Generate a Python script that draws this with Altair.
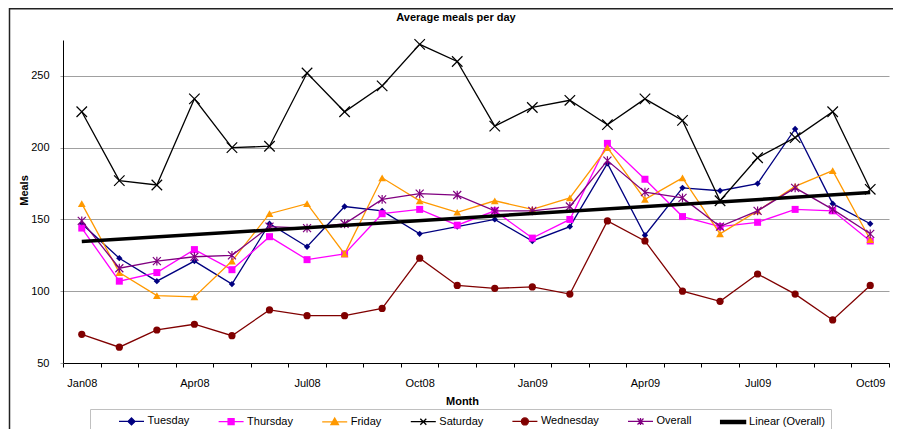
import json
import altair as alt
import pandas as pd

months = ["Jan08", "Feb08", "Mar08", "Apr08", "May08", "Jun08", "Jul08", "Aug08",
          "Sep08", "Oct08", "Nov08", "Dec08", "Jan09", "Feb09", "Mar09", "Apr09",
          "May09", "Jun09", "Jul09", "Aug09", "Sep09", "Oct09"]
tuesday = [147, 123, 107, 121, 105, 147, 131, 159, 156, 140, 145, 150, 135, 145, 189, 139, 172, 170, 175, 213, 161, 147]
thursday = [144, 107, 113, 129, 115, 138, 122, 126, 154, 157, 146, 156, 137, 150, 203, 178, 152, 145, 148, 157, 156, 135]
friday = [161, 113, 97, 96, 121, 154, 161, 126, 179, 163, 155, 163, 157, 165, 200, 164, 179, 140, 156, 173, 184, 136]
saturday = [225, 177, 174, 234, 200, 201, 252, 225, 243, 272, 260, 215, 228, 233, 216, 234, 219, 163, 193, 207, 225, 171]
wednesday = [70, 61, 73, 77, 69, 87, 83, 83, 88, 123, 104, 102, 103, 98, 149, 135, 100, 93, 112, 98, 80, 104]
overall = [149, 116, 121, 124, 125, 145, 144, 147, 164, 168, 167, 156, 156, 159, 191, 169, 165, 145, 156, 172, 157, 140]

x_labels = ["Jan08", "Apr08", "Jul08", "Oct08", "Jan09", "Apr09", "Jul09", "Oct09"]
y_ticks = [50, 100, 150, 200, 250]

series_names = ["Tuesday", "Thursday", "Friday", "Saturday", "Wednesday", "Overall"]
series_values = [tuesday, thursday, friday, saturday, wednesday, overall]
legend_names = series_names + ["Linear (Overall)"]

colors = ["#000080", "#FF00FF", "#FF9900", "#000000", "#800000", "#800080", "#000000"]
X_PATH = "M-1,-1L1,1M-1,1L1,-1"
AST_PATH = "M-1,-1L1,1M-1,1L1,-1M0,-1.1L0,1.1"
marker_shapes = ["diamond", "square", "triangle-up", X_PATH, "circle", AST_PATH]
marker_sizes = [40, 49, 60, 110, 52, 64]
marker_filled = [True, True, True, False, True, False]

legend_shapes = [
    "M-2.5,0H2.5M0,-0.7L0.7,0L0,0.7L-0.7,0Z",
    "M-2.5,0H2.5M-0.6,-0.6H0.6V0.6H-0.6Z",
    "M-2.5,0H2.5M0,-0.75L0.75,0.55L-0.75,0.55Z",
    "M-2.5,0H2.5M-0.6,-0.6L0.6,0.6M-0.6,0.6L0.6,-0.6",
    "M-2.5,0H2.5M-0.7,0A0.7,0.7 0 1,0 0.7,0A0.7,0.7 0 1,0 -0.7,0Z",
    "M-2.5,0H2.5M-0.6,-0.6L0.6,0.6M-0.6,0.6L0.6,-0.6M0,-0.7V0.7",
    "M-2.5,-0.3H2.5V0.3H-2.5Z",
]

FONT = "Liberation Sans"
W, H = 826, 323

rows = []
for name, vals in zip(series_names, series_values):
    for i, (m, v) in enumerate(zip(months, vals)):
        rows.append({"series": name, "month": m, "idx": i, "meals": v})
long_df = pd.DataFrame(rows)

x_axis = alt.Axis(
    title="Month", labelAngle=0, grid=False, tickBand="extent", tickSize=4,
    tickColor="#000000", domainColor="#000000", labelOverlap=False,
    labelExpr=f"indexof({json.dumps(x_labels)}, datum.value) >= 0 ? datum.label : ''",
    labelBaseline="alphabetic", labelPadding=19,
    titleX=399, titleY=41, titleBaseline="alphabetic", titleAlign="center",
)
x_enc = alt.X("month:O", scale=alt.Scale(type="band", domain=months, paddingInner=0, paddingOuter=0),
              bandPosition=0.5, axis=x_axis)
y_axis = alt.Axis(
    title="Meals", values=y_ticks, grid=True, gridColor="#a0a0a0", tickColor="#a0a0a0",
    tickSize=3, domainColor="#000000", labelPadding=11,
    titleX=-36, titleY=150, titleBaseline="alphabetic", titleAlign="center", titleAngle=-90,
)
y_enc = alt.Y("meals:Q", scale=alt.Scale(domain=[50, 275], nice=False, zero=False), axis=y_axis)

layers = []
for name, col, shp, sz, fl in zip(series_names, colors, marker_shapes, marker_sizes, marker_filled):
    base = alt.Chart(long_df).transform_filter(alt.datum.series == name)
    layers.append(base.mark_line(color=col, strokeWidth=1.3).encode(x=x_enc, y=y_enc))
    layers.append(base.mark_point(shape=shp, size=sz, filled=fl, color=col, opacity=1,
                                  strokeWidth=1.2).encode(x=x_enc, y=y_enc))

trend = (
    alt.Chart(long_df)
    .transform_filter(alt.datum.series == "Overall")
    .transform_regression("idx", "meals", method="linear", extent=[0, 21], as_=["idx", "meals"])
    .transform_calculate(month=f"{json.dumps(months)}[round(datum.idx)]")
    .mark_line(color="#000000", strokeWidth=3.5)
    .encode(x=x_enc, y=y_enc)
)
layers.append(trend)

leg = alt.Legend(
    title=None, orient="none", legendX=27, legendY=369, direction="horizontal",
    strokeColor="#c0c0c0", padding=6, symbolSize=100, symbolStrokeWidth=1.3,
    symbolOffset=29.5, labelOffset=10, columnPadding=5.6,
    labelFont=FONT, labelFontSize=11, labelColor="#000000",
)
legend_layer = (
    alt.Chart(long_df)
    .transform_filter("false")
    .mark_point(filled=True, opacity=1, strokeWidth=1.3, size=100)
    .encode(
        fill=alt.Fill("series:N", scale=alt.Scale(domain=legend_names, range=colors), legend=leg),
        stroke=alt.Stroke("series:N", scale=alt.Scale(domain=legend_names, range=colors), legend=leg),
        shape=alt.Shape("series:N", scale=alt.Scale(domain=legend_names, range=legend_shapes), legend=leg),
    )
)
layers.append(legend_layer)

frame_left = alt.Chart(pd.DataFrame({"k": [0]})).mark_rule(color="#222222", strokeWidth=1.5).encode(
    x=alt.value(-53.5), y=alt.value(-32), y2=alt.value(H + 70))
frame_top = alt.Chart(pd.DataFrame({"k": [0]})).mark_rule(color="#222222", strokeWidth=1.5).encode(
    x=alt.value(-53.5), x2=alt.value(W + 10), y=alt.value(-31.2))
layers = [frame_left, frame_top] + layers

chart = (
    alt.layer(*layers)
    .properties(
        width=W, height=H,
        title=alt.TitleParams("Average meals per day", anchor="middle", frame="group", dx=-20, offset=-24.5,
                              baseline="alphabetic", font=FONT, fontSize=11, fontWeight="bold",
                              color="#000000"),
        autosize=alt.AutoSizeParams(type="none"),
        padding={"left": 55, "top": 32, "right": 4, "bottom": 66},
    )
    .configure_view(stroke=None)
    .configure_axis(labelFont=FONT, labelFontSize=11, labelColor="#000000",
                    titleFont=FONT, titleFontSize=11, titleFontWeight="bold", titleColor="#000000",
                    domainWidth=1)
)

chart.save("out.html", embed_options={"renderer": "svg", "actions": False})
